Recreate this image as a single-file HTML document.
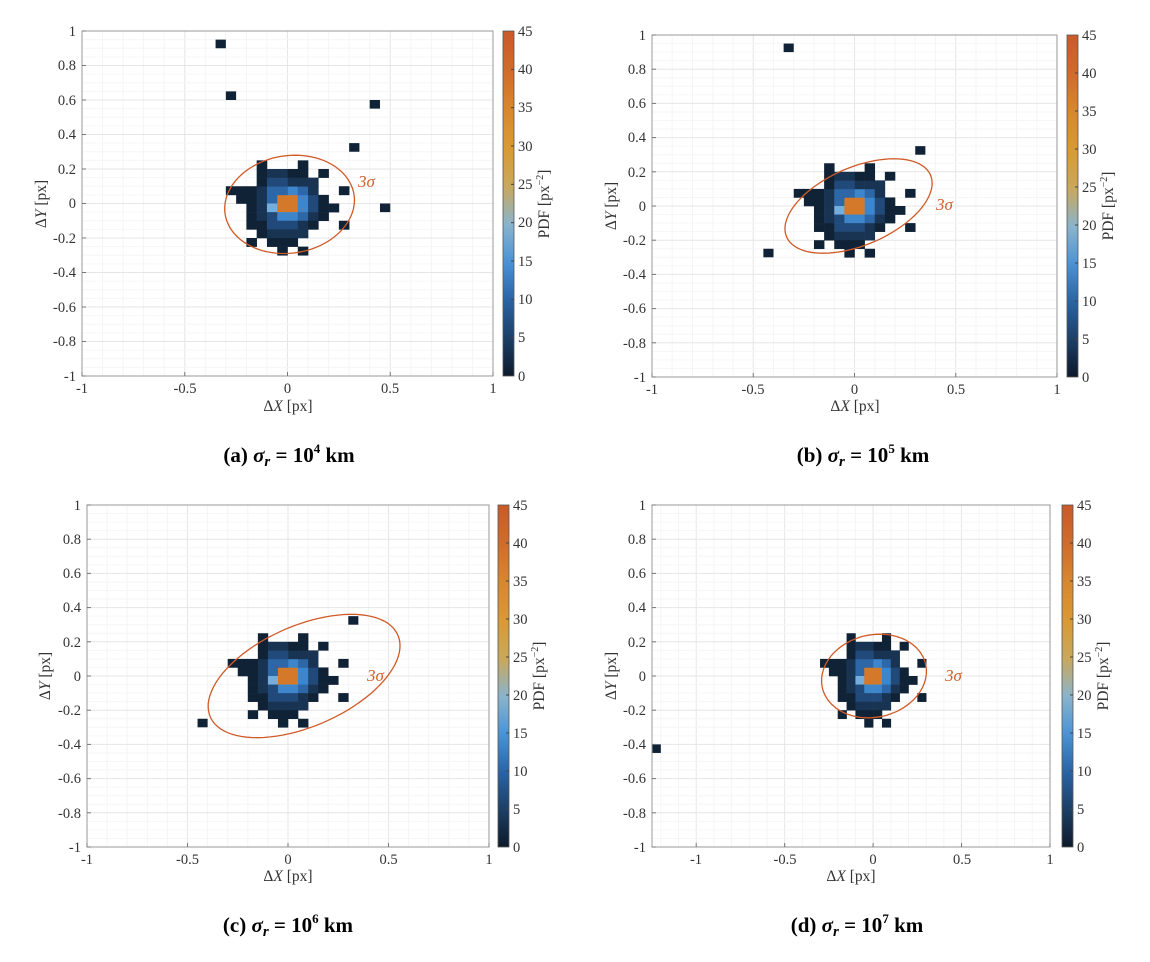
<!DOCTYPE html>
<html><head><meta charset="utf-8"><style>
body{margin:0;background:#fff;}
svg{display:block;font-family:"Liberation Serif",serif;}
.t{font-size:14.5px;fill:#333;}
.cap{font-size:21px;font-weight:bold;fill:#000;}
.sig{font-size:17px;font-style:italic;fill:#d0602a;}
.lab{font-size:15.5px;fill:#333;}
</style></head><body>
<svg id="s" width="1150" height="962" viewBox="0 0 1150 962">
<defs><linearGradient id="cg" x1="0" y1="1" x2="0" y2="0">
<stop offset="0" stop-color="#0d1a2b"/><stop offset="0.11" stop-color="#1c3f66"/><stop offset="0.22" stop-color="#2a64a5"/><stop offset="0.33" stop-color="#4a93d6"/><stop offset="0.44" stop-color="#8ab4cc"/><stop offset="0.55" stop-color="#c9a85c"/><stop offset="0.66" stop-color="#d99a34"/><stop offset="0.78" stop-color="#d8862e"/><stop offset="0.89" stop-color="#d06b2a"/><stop offset="1" stop-color="#c95a2a"/></linearGradient></defs>
<g id="plots"></g>

<g class="t" text-anchor="middle">
<text x="82" y="393">-1</text><text x="185" y="393">-0.5</text><text x="287.5" y="393">0</text><text x="390" y="393">0.5</text><text x="493" y="393">1</text>
<text x="652" y="394">-1</text><text x="753" y="394">-0.5</text><text x="854.5" y="394">0</text><text x="956" y="394">0.5</text><text x="1057" y="394">1</text>
<text x="87" y="864">-1</text><text x="187.5" y="864">-0.5</text><text x="288" y="864">0</text><text x="388.5" y="864">0.5</text><text x="489" y="864">1</text>
<text x="696" y="864">-1</text><text x="785" y="864">-0.5</text><text x="873" y="864">0</text><text x="962" y="864">0.5</text><text x="1050" y="864">1</text>
</g>
<g class="t" text-anchor="end">
<text x="76" y="36">1</text><text x="76" y="70">0.8</text><text x="76" y="105">0.6</text><text x="76" y="139">0.4</text><text x="76" y="174">0.2</text><text x="76" y="208">0</text><text x="76" y="243">-0.2</text><text x="76" y="277">-0.4</text><text x="76" y="312">-0.6</text><text x="76" y="346">-0.8</text><text x="76" y="381">-1</text>
<text x="646" y="40">1</text><text x="646" y="74">0.8</text><text x="646" y="108">0.6</text><text x="646" y="142">0.4</text><text x="646" y="177">0.2</text><text x="646" y="211">0</text><text x="646" y="245">-0.2</text><text x="646" y="279">-0.4</text><text x="646" y="313">-0.6</text><text x="646" y="348">-0.8</text><text x="646" y="382">-1</text>
<text x="81" y="510">1</text><text x="81" y="544">0.8</text><text x="81" y="578">0.6</text><text x="81" y="612">0.4</text><text x="81" y="647">0.2</text><text x="81" y="681">0</text><text x="81" y="715">-0.2</text><text x="81" y="749">-0.4</text><text x="81" y="783">-0.6</text><text x="81" y="818">-0.8</text><text x="81" y="852">-1</text>
<text x="646" y="510">1</text><text x="646" y="544">0.8</text><text x="646" y="578">0.6</text><text x="646" y="612">0.4</text><text x="646" y="647">0.2</text><text x="646" y="681">0</text><text x="646" y="715">-0.2</text><text x="646" y="749">-0.4</text><text x="646" y="783">-0.6</text><text x="646" y="818">-0.8</text><text x="646" y="852">-1</text>
</g>
<g class="t" text-anchor="start">
<text x="518" y="381">0</text><text x="518" y="342">5</text><text x="518" y="304">10</text><text x="518" y="266">15</text><text x="518" y="227">20</text><text x="518" y="189">25</text><text x="518" y="151">30</text><text x="518" y="112">35</text><text x="518" y="74">40</text><text x="518" y="36">45</text>
<text x="1082" y="382">0</text><text x="1082" y="344">5</text><text x="1082" y="306">10</text><text x="1082" y="268">15</text><text x="1082" y="230">20</text><text x="1082" y="192">25</text><text x="1082" y="154">30</text><text x="1082" y="116">35</text><text x="1082" y="78">40</text><text x="1082" y="40">45</text>
<text x="513" y="852">0</text><text x="513" y="814">5</text><text x="513" y="776">10</text><text x="513" y="738">15</text><text x="513" y="700">20</text><text x="513" y="662">25</text><text x="513" y="624">30</text><text x="513" y="586">35</text><text x="513" y="548">40</text><text x="513" y="510">45</text>
<text x="1077" y="852">0</text><text x="1077" y="814">5</text><text x="1077" y="776">10</text><text x="1077" y="738">15</text><text x="1077" y="700">20</text><text x="1077" y="662">25</text><text x="1077" y="624">30</text><text x="1077" y="586">35</text><text x="1077" y="548">40</text><text x="1077" y="510">45</text>
</g>
<g class="lab" text-anchor="middle">
<text x="288" y="411">Δ<tspan font-style="italic">X</tspan> [px]</text>
<text x="855" y="411">Δ<tspan font-style="italic">X</tspan> [px]</text>
<text x="288" y="881">Δ<tspan font-style="italic">X</tspan> [px]</text>
<text x="851" y="881">Δ<tspan font-style="italic">X</tspan> [px]</text>
<text transform="translate(46,204) rotate(-90)">Δ<tspan font-style="italic">Y</tspan> [px]</text>
<text transform="translate(616,206) rotate(-90)">Δ<tspan font-style="italic">Y</tspan> [px]</text>
<text transform="translate(50,676) rotate(-90)">Δ<tspan font-style="italic">Y</tspan> [px]</text>
<text transform="translate(616,676) rotate(-90)">Δ<tspan font-style="italic">Y</tspan> [px]</text>
<text transform="translate(549,204) rotate(-90)">PDF [px<tspan dy="-6" font-size="10">−2</tspan><tspan dy="6">]</tspan></text>
<text transform="translate(1113,206) rotate(-90)">PDF [px<tspan dy="-6" font-size="10">−2</tspan><tspan dy="6">]</tspan></text>
<text transform="translate(544,676) rotate(-90)">PDF [px<tspan dy="-6" font-size="10">−2</tspan><tspan dy="6">]</tspan></text>
<text transform="translate(1108,676) rotate(-90)">PDF [px<tspan dy="-6" font-size="10">−2</tspan><tspan dy="6">]</tspan></text>
</g>
<g class="sig">
<text x="358" y="187">3σ</text><text x="936" y="210">3σ</text><text x="367" y="681">3σ</text><text x="945" y="681">3σ</text>
</g>
<g class="cap" text-anchor="middle">
<text x="289" y="462">(a) <tspan font-style="italic">σ<tspan font-size="15" dy="4">r</tspan></tspan><tspan dy="-4"> = 10</tspan><tspan font-size="13" dy="-9">4</tspan><tspan dy="9"> km</tspan></text>
<text x="863" y="462">(b) <tspan font-style="italic">σ<tspan font-size="15" dy="4">r</tspan></tspan><tspan dy="-4"> = 10</tspan><tspan font-size="13" dy="-9">5</tspan><tspan dy="9"> km</tspan></text>
<text x="288" y="932">(c) <tspan font-style="italic">σ<tspan font-size="15" dy="4">r</tspan></tspan><tspan dy="-4"> = 10</tspan><tspan font-size="13" dy="-9">6</tspan><tspan dy="9"> km</tspan></text>
<text x="857" y="932">(d) <tspan font-style="italic">σ<tspan font-size="15" dy="4">r</tspan></tspan><tspan dy="-4"> = 10</tspan><tspan font-size="13" dy="-9">7</tspan><tspan dy="9"> km</tspan></text>
</g>
</svg>
<script>
var NS="http://www.w3.org/2000/svg",G=document.getElementById("plots");
function el(n,a){var e=document.createElementNS(NS,n);for(var k in a)e.setAttribute(k,a[k]);G.appendChild(e);return e;}
var col=[null,"#102236","#183452","#21497a","#2d67a8","#3d86cc","#75aedc","#d4782a"];
var core={4:{"-3":1,"1":1},3:{"-3":1,"-2":2,"-1":2,"0":1,"1":1,"3":1},2:{"-3":1,"-2":3,"-1":3,"0":2,"1":2,"2":2},
1:{"-6":1,"-5":1,"-4":1,"-3":2,"-2":4,"-1":4,"0":5,"1":4,"2":2,"5":1},
0:{"-5":1,"-4":1,"-3":2,"-2":4,"-1":7,"0":7,"1":5,"2":3,"3":1},
"-1":{"-4":1,"-3":2,"-2":6,"-1":7,"0":7,"1":5,"2":3,"3":1,"4":1},
"-2":{"-4":1,"-3":2,"-2":3,"-1":5,"0":5,"1":4,"2":2,"3":1},
"-3":{"-4":1,"-3":1,"-2":3,"-1":3,"0":3,"1":2,"2":1,"5":1},
"-4":{"-3":1,"-2":2,"-1":2,"0":2,"1":2},"-5":{"-4":1,"-2":1,"-1":1,"0":1},"-6":{"-1":1,"1":1}};
var P=[
{L:82,R:493,T:31,B:376,x0:-1,cb:503,out:[[-7,18],[-6,12],[8,11],[6,6],[9,-1]],e:[0.01,-0.005,0.32,0.28,20]},
{L:652,R:1057,T:35,B:377,x0:-1,cb:1067,out:[[-7,18],[6,6],[-9,-6]],e:[0.02,0,0.4,0.22,30]},
{L:87,R:489,T:505,B:847,x0:-1,cb:498,out:[[6,6],[-9,-6]],e:[0.08,0,0.526,0.285,30]},
{L:652,R:1050,T:505,B:847,x0:-1.25,cb:1062,out:[[-25,-9]],e:[0.005,0,0.3,0.24,15]}];
P.forEach(function(p){
 var kx=(p.R-p.L)/(1-p.x0),ky=(p.B-p.T)/2;
 function X(v){return p.L+(v-p.x0)*kx;} function Y(v){return p.T+(1-v)*ky;}
 el("rect",{x:p.L,y:p.T,width:p.R-p.L,height:p.B-p.T,fill:"#fff"});
 for(var v=Math.ceil(p.x0*10)/10;v<1.0001;v+=0.1){var xx=X(v);var maj=Math.abs(v*2-Math.round(v*2))<1e-6;
  el("line",{x1:xx,x2:xx,y1:p.T,y2:p.B,stroke:maj?"#e6e6e6":"#f5f5f5","stroke-width":1});}
 for(var k=-20;k<=20;k++){var v2=k*0.05,yy=Y(v2);var maj=(k%4===0);
  el("line",{x1:p.L,x2:p.R,y1:yy,y2:yy,stroke:maj?"#e6e6e6":"#f6f6f6","stroke-width":1});}
 for(var j in core)for(var i in core[j]){var a=+i,b=+j;
  el("rect",{x:X(a*0.05),y:Y(b*0.05+0.05),width:0.05*kx+0.3,height:0.05*ky+0.3,fill:col[core[j][i]]});}
 p.out.forEach(function(o){el("rect",{x:X(o[0]*0.05),y:Y(o[1]*0.05+0.05),width:0.05*kx,height:0.05*ky,fill:"#102236"});});
 var e=p.e,th=e[4]*Math.PI/180,pts=[];
 for(var t=0;t<=360;t+=4){var r=t*Math.PI/180,u=e[2]*Math.cos(r),w=e[3]*Math.sin(r);
  pts.push(X(e[0]+u*Math.cos(th)-w*Math.sin(th)).toFixed(1)+","+Y(e[1]+u*Math.sin(th)+w*Math.cos(th)).toFixed(1));}
 el("polyline",{points:pts.join(" "),fill:"none",stroke:"#d05a28","stroke-width":1.3});
 el("rect",{x:p.L,y:p.T,width:p.R-p.L,height:p.B-p.T,fill:"none",stroke:"#999","stroke-width":1});
 var tx=[];for(var v=Math.ceil(p.x0*2)/2;v<1.0001;v+=0.5)tx.push(v);
 tx.forEach(function(v){el("line",{x1:X(v),x2:X(v),y1:p.B,y2:p.B-4,stroke:"#777"});});
 for(var k=-5;k<=5;k++)el("line",{x1:p.L,x2:p.L+4,y1:Y(k*0.2),y2:Y(k*0.2),stroke:"#777"});
 el("rect",{x:p.cb,y:p.T,width:11,height:p.B-p.T,fill:"url(#cg)",stroke:"#555","stroke-width":0.8});
 for(var k=1;k<9;k++){var yy=p.B-k*(p.B-p.T)/9;el("line",{x1:p.cb+8,x2:p.cb+11,y1:yy,y2:yy,stroke:"#444"});}
});
</script>
</body></html>
